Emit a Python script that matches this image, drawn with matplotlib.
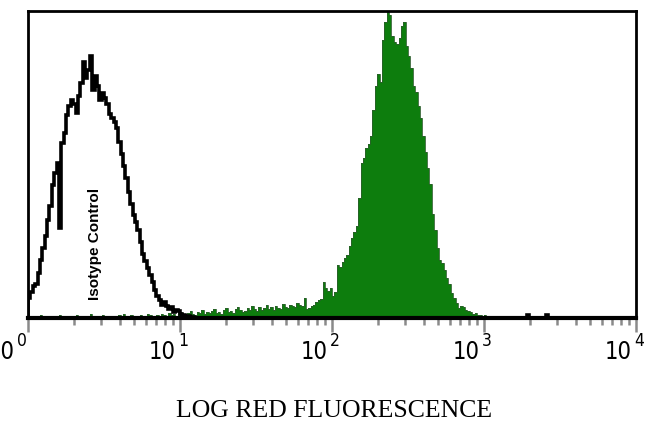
import numpy as np
import matplotlib
matplotlib.use('Agg')
import matplotlib.pyplot as plt
from matplotlib import font_manager
from matplotlib.font_manager import FontProperties

# --- fonts: a narrow sans for the decade labels if one is installed ---
narrow_file = None
for f in font_manager.fontManager.ttflist:
    fn = f.fname.lower()
    if ('narrow' in fn or 'condensed' in fn) and 'bold' not in fn and 'oblique' not in fn \
            and 'italic' not in fn and 'sans' in fn and 'mono' not in fn:
        narrow_file = f.fname
        break
if narrow_file:
    LABEL_FONT = FontProperties(fname=narrow_file, size=17)
    SUP_FONT = FontProperties(fname=narrow_file, size=12.5)
else:
    LABEL_FONT = FontProperties(family='Liberation Sans', size=16)
    SUP_FONT = FontProperties(family='Liberation Sans', size=12)

GREEN = '#0d7d0d'
TICK_GREY = '#8a8a8a'

# --- data: 256 log channels over 4 decades ---
n_channels = 256
decades = [1, 10, 100, 1000, 10000]
decade_exponents = ['0', '1', '2', '3', '4']

# isotype control (black outline), channels 0-70
isotype_main = [20, 26, 32, 34, 45, 58, 70, 82, 98, 112,
                133, 145, 155, 90, 175, 185, 203, 212, 218, 214,
                205, 222, 235, 256, 240, 248, 262, 228, 242, 232,
                218, 225, 220, 214, 204, 200, 196, 190, 176, 164,
                152, 140, 126, 114, 103, 96, 88, 76, 64, 57,
                50, 43, 36, 28, 22, 18, 13, 16, 12, 9,
                11, 6, 8, 7, 4, 3, 2, 2, 1, 1, 0]
isotype_tail_events = {210: 3, 218: 3}

# stained sample (green fill)
stained_low = [2, 1, 0, 2, 1, 3, 1, 0, 2, 1, 2, 0, 1, 3, 2, 1, 0, 2, 1, 1,
               3, 2, 0, 1, 2, 1, 4, 2, 1, 0, 2, 3, 1, 2, 1, 0, 2, 1, 3, 2,
               4, 2, 1, 3, 2, 1, 2, 3, 1, 2, 4, 3, 2, 1, 3, 2, 4, 3, 2, 5,
               3, 4, 2, 5]
stained_mid = [6, 4, 3, 5, 7, 4, 3, 6, 5, 8, 4, 6, 5, 7, 9, 5, 6, 4, 8, 10,
               6, 7, 5, 9, 11, 8, 6, 7, 10, 8, 12, 9, 7, 11, 8, 10, 13, 9, 11, 8,
               12, 10, 9, 14, 11, 10, 13, 12, 11, 15, 13]
stained_peak = [12, 20, 9, 10, 12, 13, 16, 18, 19, 36,
                30, 27, 30, 22, 26, 53, 51, 56, 60, 63,
                72, 80, 86, 92, 120, 155, 160, 170, 174, 182,
                208, 232, 244, 236, 278, 296, 312, 303, 282, 276,
                274, 280, 292, 296, 272, 262, 250, 232, 226, 212,
                200, 182, 166, 150, 134, 104, 88, 70, 58, 55,
                48, 40, 34, 25, 20, 15, 10, 12, 11, 8,
                7, 6, 4, 5, 3, 3, 2, 3, 1, 2]
stained_high = [0, 1, 0, 0, 1, 0, 0, 0, 0, 1, 0, 0, 0, 0, 0, 0, 0, 1, 0, 0]

isotype = np.zeros(n_channels)
isotype[:len(isotype_main)] = isotype_main
for ch, v in isotype_tail_events.items():
    isotype[ch] = v

stained = np.zeros(n_channels)
seg = stained_low + stained_mid + stained_peak + stained_high
stained[:len(seg)] = seg

edges = np.logspace(0, 4, n_channels + 1)

# --- figure ---
W, H = 647, 434
fig = plt.figure(figsize=(W / 100, H / 100), dpi=100)
ax = fig.add_axes([28 / W, (H - 318) / H, (636 - 28) / W, (318 - 11) / H])

ax.stairs(stained, edges, fill=True, color=GREEN, linewidth=0)
ax.stairs(stained, edges, color='#2c5e2c', linewidth=0.6, baseline=None)
ax.stairs(isotype, edges, color='black', linewidth=2.6)

ax.set_xscale('log')
ax.set_xlim(1, 10000)
ax.set_ylim(0, 307)

ax.text(2.75, 0.06, 'Isotype Control', rotation=90, transform=ax.get_xaxis_transform(),
        ha='center', va='bottom', fontsize=11, fontweight='bold',
        family='Liberation Sans')

for side in ['left', 'top', 'right']:
    ax.spines[side].set_linewidth(2)
ax.spines['bottom'].set_linewidth(3)

ax.set_yticks([])
ax.set_xticks(decades)
ax.set_xticklabels([])
ax.xaxis.set_minor_locator(matplotlib.ticker.LogLocator(base=10, subs=np.arange(2, 10)))
ax.xaxis.set_minor_formatter(matplotlib.ticker.NullFormatter())
ax.tick_params(axis='x', which='major', length=10, width=1.8, color=TICK_GREY)
ax.tick_params(axis='x', which='minor', length=5, width=1.8, color=TICK_GREY)

# decade labels: "10" with a raised exponent (first one runs off the left edge)
px = 72 / 100
for i, (d, e) in enumerate(zip(decades, decade_exponents)):
    shift = -9 if i == 0 else 0
    ax.annotate('10', xy=(d, 0), xycoords=('data', 'axes fraction'),
                xytext=((shift - 4) * px, -22 * px), textcoords='offset points',
                ha='right', va='top', fontproperties=LABEL_FONT, annotation_clip=False)
    ax.annotate(e, xy=(d, 0), xycoords=('data', 'axes fraction'),
                xytext=((shift - 2) * px, -14 * px), textcoords='offset points',
                ha='left', va='top', fontproperties=SUP_FONT, annotation_clip=False)

fig.text(334 / W, (H - 411) / H, 'LOG RED FLUORESCENCE', ha='center', va='center',
         fontsize=18.5, family='Liberation Serif')

fig.savefig('out.png', dpi=100)
